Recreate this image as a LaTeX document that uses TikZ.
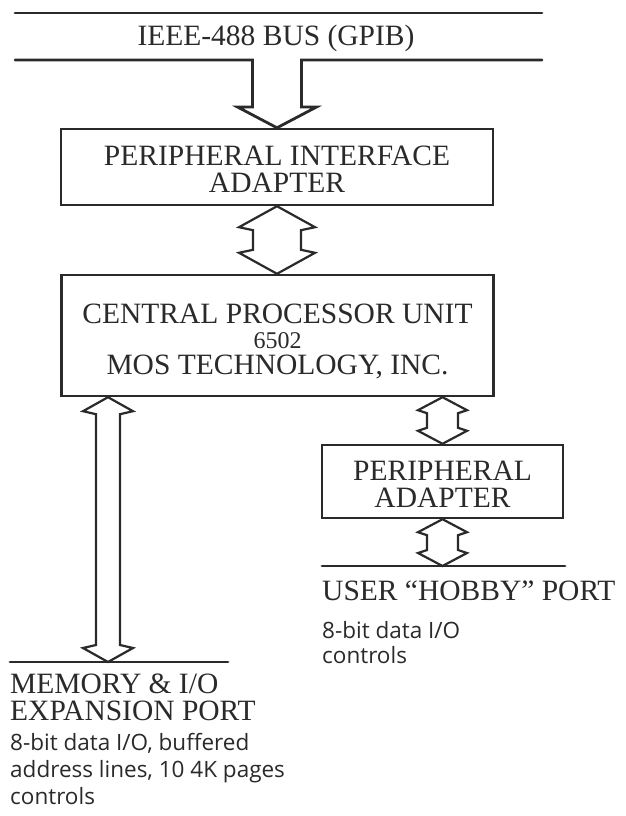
\documentclass[tikz,border=0pt]{standalone}
\usepackage{fontspec}
\setmainfont{Liberation Serif}
\newfontfamily\descfont{Open Sans}
\usetikzlibrary{calc}
\definecolor{ink}{HTML}{2A2A2A}
\newcommand\dblarr[5]{% #1 top tip, #2 bottom tip, #3 shaft half width, #4 wing half width, #5 head length
  \draw[dblarrow] let \p1=(#1), \p2=(#2) in
    (\x1,\y1) -- (\x1+#4pt,\y1-#5pt) -- (\x1+#3pt,\y1-#5pt-3pt) -- (\x1+#3pt,\y2+#5pt+3pt)
    -- (\x1+#4pt,\y2+#5pt) -- (\x2,\y2) -- (\x1-#4pt,\y2+#5pt) -- (\x1-#3pt,\y2+#5pt+3pt)
    -- (\x1-#3pt,\y1-#5pt-3pt) -- (\x1-#4pt,\y1-#5pt) -- cycle;}
\begin{document}
\begin{tikzpicture}[x=1pt,y=-1pt,
  boxnode/.style={draw=ink, line width=2.4pt, rectangle, inner sep=0pt},
  bus/.style={draw=ink, line width=2.8pt, line cap=round, line join=miter},
  dblarrow/.style={draw=ink, line width=2.2pt, fill=white, line join=miter},
  title/.style={text=ink, font=\fontsize{29.5}{27}\selectfont, inner sep=0pt, anchor=base},
  titleleft/.style={title, anchor=base west},
  desc/.style={text=ink, font=\descfont\fontsize{22.5}{26}\selectfont, inner sep=0pt, anchor=base west}]

\useasboundingbox[fill=white] (0,0) rectangle (626,816);

% boxes
\node[boxnode, minimum width=432, minimum height=76] (pia) at (277,167) {};
\node[boxnode, minimum width=432, minimum height=121] (cpu) at (277.5,335.5) {};
\node[boxnode, minimum width=241, minimum height=73] (pa) at (442.5,481.5) {};

% box texts
\node[title] (pia1) at (277,165) {PERIPHERAL INTERFACE};
\node[title] (pia2) at (277,192) {ADAPTER};
\node[title] (cpu1) at (277.5,323) {CENTRAL PROCESSOR UNIT};
\node[title, font=\fontsize{24}{24}\selectfont] (cpu2) at (277.5,348) {6502};
\node[title] (cpu3) at (277.5,374) {MOS TECHNOLOGY, INC.};
\node[title] (pa1) at (442.5,480) {PERIPHERAL};
\node[title] (pa2) at (442.5,507) {ADAPTER};

% bus labels
\node[title] (buslbl) at (276,46) {IEEE-488 BUS (GPIB)};
\node[titleleft] (user) at (322,600) {USER “HOBBY” PORT};
\node[desc] (ud1) at (322,638) {8-bit data I/O};
\node[desc] (ud2) at (322,663) {controls};
\node[titleleft] (mem1) at (10,693) {MEMORY \& I/O};
\node[titleleft] (mem2) at (10,720) {EXPANSION PORT};
\node[desc] (md1) at (10,750) {8-bit data I/O, buffered};
\node[desc] (md2) at (10,777) {address lines, 10 4K pages};
\node[desc] (md3) at (10,804) {controls};

% line end points
\coordinate (t1) at (15,13);  \coordinate (t2) at (542,13);
\coordinate (b1) at (15,60);  \coordinate (b2) at (542,60);
\coordinate (m1) at (10,662); \coordinate (m2) at (228,662);
\coordinate (ml) at (108,662);
\coordinate (u1) at (322,566); \coordinate (u2) at (565,566);

% double arrows
\dblarr{pia.south}{cpu.north -| pia.south}{24}{38}{21}
\dblarr{cpu.south -| ml}{ml}{12}{25}{14}
\dblarr{cpu.south -| pa.north}{pa.north}{15.5}{24.5}{13}
\dblarr{pa.south}{pa.south |- u1}{15.5}{24.5}{13}

% bus lines
\draw[bus] (t1) -- (t2);
\draw[bus] (b1) -- (252.5,60) -- (252.5,107) -- (237.5,107) -- (pia.north)
  -- (316.5,107) -- (301.5,107) -- (301.5,60) -- (b2);
\draw[bus] (m1) -- (m2);
\draw[bus] (u1) -- (u2);
\end{tikzpicture}
\end{document}
